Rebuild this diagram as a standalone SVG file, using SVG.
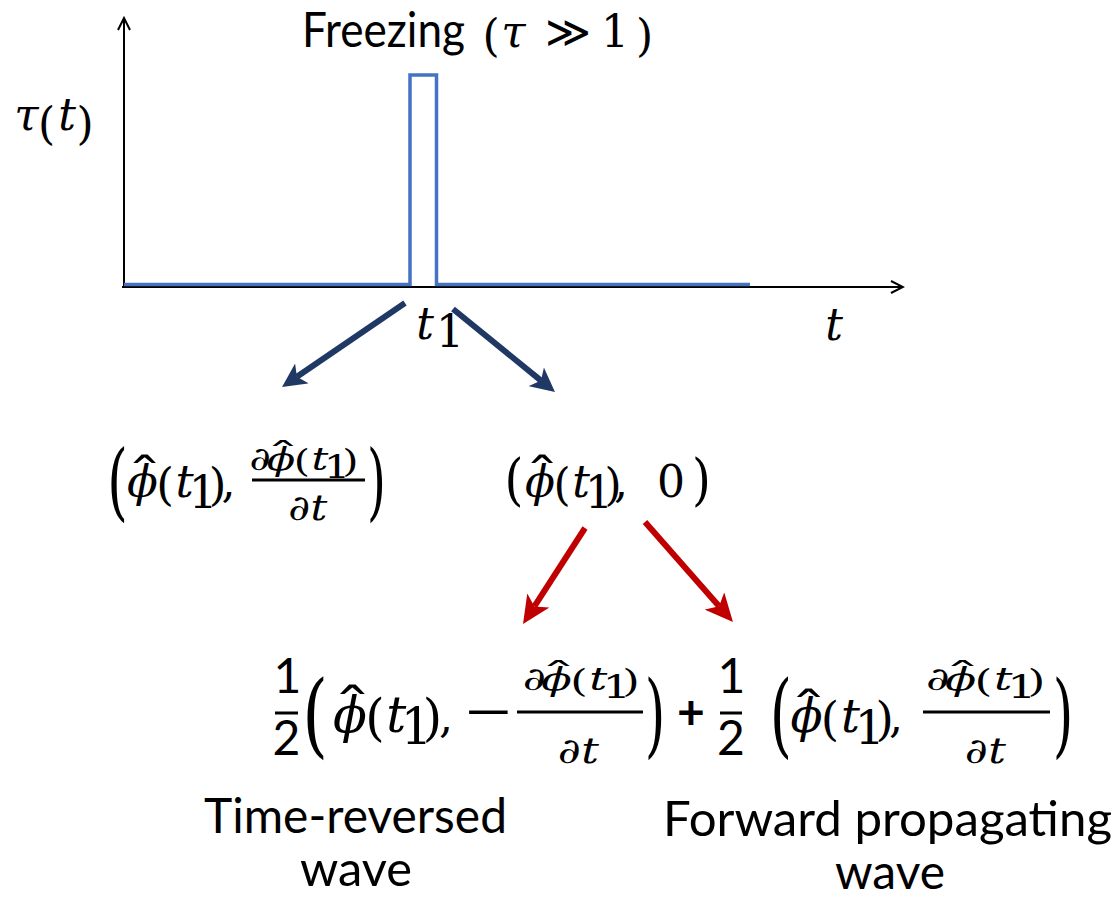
<svg xmlns="http://www.w3.org/2000/svg" xmlns:xlink="http://www.w3.org/1999/xlink" width="1120" height="899" viewBox="0 0 1120 899">
<style>
.sans{font-family:Lato,"Open Sans","Liberation Sans",sans-serif;font-size:48px;fill:#000}
.m{font-family:"DejaVu Serif","Liberation Serif",serif;font-size:44px;fill:#000;text-anchor:middle}
.mi{font-family:"DejaVu Serif","Liberation Serif",serif;font-size:44px;font-style:italic;fill:#000;text-anchor:middle}
.ax{stroke:#000;stroke-width:2;fill:none}
.bar{stroke:#000;stroke-width:3}
.navy{stroke:#203864;stroke-width:6;fill:none}
.red{stroke:#C00000;stroke-width:6;fill:none}
</style>
<defs>
<marker id="ao" viewBox="-13 -7 15 14" refX="0" refY="0" markerWidth="15" markerHeight="14" markerUnits="userSpaceOnUse" orient="auto">
<path d="M-12,-6 L0,0 L-12,6" fill="none" stroke="#000" stroke-width="2"/>
</marker>
<marker id="hn" viewBox="0 -12 24 24" refX="6" refY="0" markerWidth="24" markerHeight="24" markerUnits="userSpaceOnUse" orient="auto">
<path d="M0,-12 L24,0 L0,12 L6,0 Z" fill="#203864"/>
</marker>
<marker id="hr" viewBox="0 -13 28 26" refX="7" refY="0" markerWidth="28" markerHeight="26" markerUnits="userSpaceOnUse" orient="auto">
<path d="M0,-13 L28,0 L0,13 L7,0 Z" fill="#C00000"/>
</marker>
<g id="pt">
<text class="m" font-size="40" transform="translate(2,-6) scale(1.6,1)">ˆ</text>
<text class="mi" x="0" y="0">ϕ</text>
<text class="m" x="22" y="3" font-size="48">(</text>
<text class="mi" x="41" y="0">t</text>
<text class="m" x="59" y="11" font-size="24">1</text>
<text class="m" x="73" y="3" font-size="48">)</text>
</g>
<g id="nm">
<text class="mi" x="-22" y="0">∂</text>
<use xlink:href="#pt"/>
</g>
<g id="dt">
<text class="mi" x="0" y="0">∂</text>
<text class="mi" x="21" y="0">t</text>
</g>
</defs>

<g id="graph">
<line class="ax" x1="124" y1="287" x2="124" y2="18" marker-end="url(#ao)"/>
<line class="ax" x1="122" y1="287" x2="903" y2="287" marker-end="url(#ao)"/>
<path d="M124,284.5 H410 V75 H436.5 V284.5 H750" fill="none" stroke="#4472C4" stroke-width="3.5"/>
</g>

<g id="title">
<text class="sans" x="302" y="47" textLength="163" lengthAdjust="spacingAndGlyphs">Freezing</text>
<text class="m" x="491" y="51" font-size="54">(</text>
<text class="mi" x="513.5" y="47">τ</text>
<text class="m" x="567.5" y="47" font-size="40">≫</text>
<text class="m" x="615" y="47" font-size="46">1</text>
<text class="m" x="644.5" y="51" font-size="54">)</text>
</g>

<g id="ylabel">
<text class="mi" x="26.5" y="130">τ</text>
<text class="m" x="46.5" y="139" font-size="50">(</text>
<text class="mi" x="67" y="130">t</text>
<text class="m" x="85" y="139" font-size="50">)</text>
</g>

<g id="xlabel">
<text class="mi" x="834" y="340">t</text>
</g>

<g id="t1">
<text class="mi" x="425" y="339">t</text>
<text class="m" x="450" y="347" font-size="24">1</text>
</g>

<g id="connectors">
<line class="navy" x1="405" y1="303" x2="296.9" y2="376.8" marker-end="url(#hn)"/>
<line class="navy" x1="453" y1="309" x2="541" y2="380.6" marker-end="url(#hn)"/>
<line class="red" x1="585" y1="528" x2="534.4" y2="606.4" marker-end="url(#hr)"/>
<line class="red" x1="645" y1="522" x2="719.1" y2="606.2" marker-end="url(#hr)"/>
</g>

<g id="expr-left">
<text class="m" font-size="56" transform="translate(117.5,510) scale(1.2,1.9)">(</text>
<use xlink:href="#pt" transform="translate(142.5,497) scale(1.03)"/>
<text class="m" x="228.5" y="497">,</text>
<use xlink:href="#nm" transform="translate(281,470) scale(0.95,0.74)"/>
<line class="bar" x1="252" y1="480" x2="365" y2="480"/>
<use xlink:href="#dt" transform="translate(299,520) scale(0.95,0.8)"/>
<text class="m" font-size="56" transform="translate(376.5,510) scale(1.1,1.9)">)</text>
</g>

<g id="expr-right">
<text class="m" font-size="56" transform="translate(514,499) scale(1.1,1.27)">(</text>
<use xlink:href="#pt" transform="translate(540,497)"/>
<text class="m" x="621" y="497">,</text>
<text class="m" x="671" y="497">0</text>
<text class="m" font-size="56" transform="translate(701.5,499) scale(1.1,1.27)">)</text>
</g>

<g id="expr-bottom">
<text class="sans" x="287.5" y="693" font-size="28" text-anchor="middle">1</text>
<line class="bar" x1="275" y1="713" x2="298" y2="713"/>
<text class="sans" x="286.5" y="755" font-size="30" text-anchor="middle">2</text>
<text class="m" font-size="56" transform="translate(315,746) scale(1.5,2.1)">(</text>
<use xlink:href="#pt" transform="translate(350,732) scale(1.13)"/>
<text class="m" x="446" y="732">,</text>
<text class="m" transform="translate(488.5,726) scale(1.4,1)">−</text>
<use xlink:href="#nm" transform="translate(556.5,690) scale(1.02,0.72)"/>
<line class="bar" x1="517" y1="712" x2="643" y2="712"/>
<use xlink:href="#dt" transform="translate(569,763) scale(1,0.8)"/>
<text class="m" font-size="56" transform="translate(655,746) scale(1.2,2.1)">)</text>
<text class="sans" x="691" y="729" font-size="32" font-weight="700" text-anchor="middle">+</text>
<text class="sans" x="731.5" y="693" font-size="28" text-anchor="middle">1</text>
<line class="bar" x1="720" y1="713" x2="742" y2="713"/>
<text class="sans" x="731" y="755" font-size="30" text-anchor="middle">2</text>
<text class="m" font-size="56" transform="translate(781,746) scale(1.3,2.1)">(</text>
<use xlink:href="#pt" transform="translate(806.5,732) scale(1.07)"/>
<text class="m" x="896" y="732">,</text>
<use xlink:href="#nm" transform="translate(960.5,690) scale(1.04,0.72)"/>
<line class="bar" x1="923" y1="712" x2="1050" y2="712"/>
<use xlink:href="#dt" transform="translate(976,763) scale(1,0.8)"/>
<text class="m" font-size="56" transform="translate(1063,746) scale(1.2,2.1)">)</text>
</g>

<g id="label-left">
<text class="sans" x="204" y="833" font-size="44" textLength="303" lengthAdjust="spacingAndGlyphs">Time-reversed</text>
<text class="sans" x="300" y="886" font-size="44" textLength="112" lengthAdjust="spacingAndGlyphs">wave</text>
</g>
<g id="label-right">
<text class="sans" x="663" y="836" font-size="44" textLength="449" lengthAdjust="spacingAndGlyphs">Forward propagating</text>
<text class="sans" x="835" y="889" font-size="44" textLength="110" lengthAdjust="spacingAndGlyphs">wave</text>
</g>
</svg>
